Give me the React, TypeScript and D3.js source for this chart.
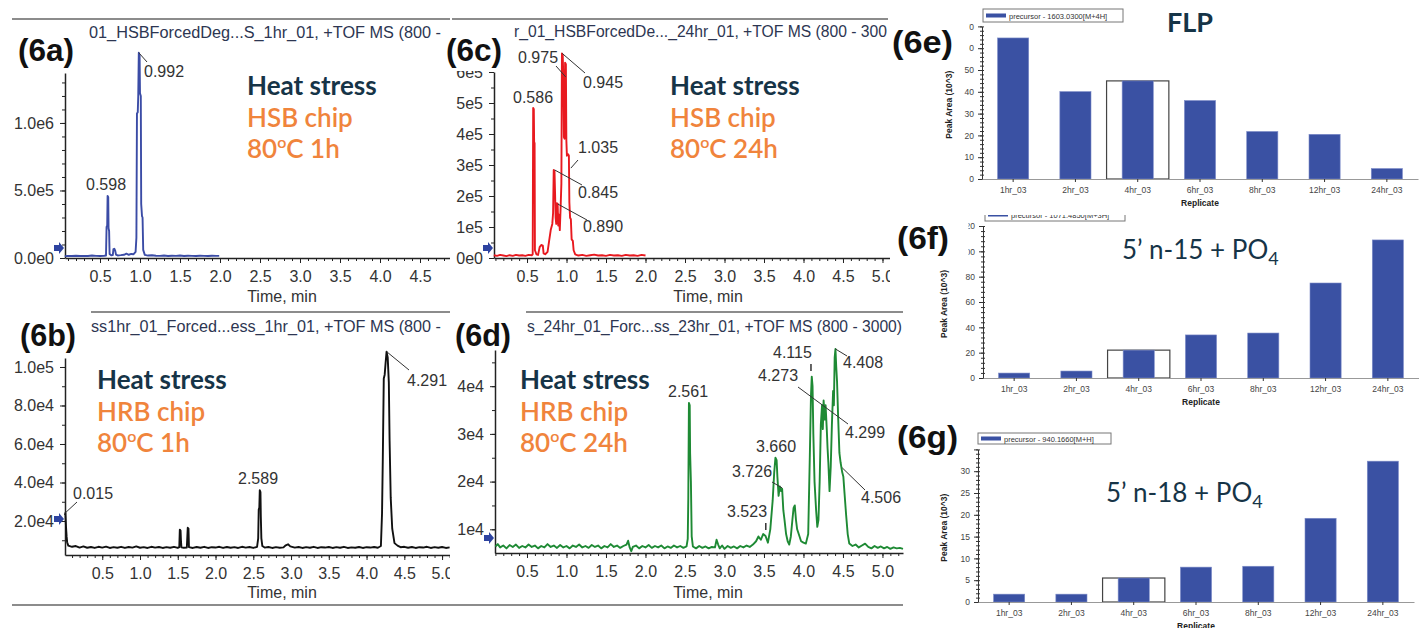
import React, { useRef, useEffect } from 'react';
import * as d3 from 'd3';

type Pt = [number, number];

const SANS = "'Liberation Sans', Arial, sans-serif";
const LATO = "Lato, 'Open Sans', sans-serif";
const NAVY = '#163447';
const ORANGE = '#f0843c';

// chromatogram traces: [time (min), intensity (cps)]
const hsb1h: Pt[] = [
  [0.06, 1.4e4], [0.1, 1.6e4], [0.15, 1.5e4], [0.2, 1.7e4], [0.25, 1.5e4], [0.3, 1.6e4], [0.35, 1.5e4],
  [0.4, 1.8e4], [0.45, 1.6e4], [0.5, 1.5e4], [0.55, 1.7e4], [0.575, 1.9e4], [0.582, 2.3e5], [0.59, 2.4e5],
  [0.595, 4.6e5], [0.603, 4.5e5], [0.607, 2.2e5], [0.614, 2.0e5], [0.62, 3e4], [0.64, 2.0e4], [0.66, 2.2e4],
  [0.668, 6.5e4], [0.68, 6.8e4], [0.69, 5.5e4], [0.7, 2.5e4], [0.72, 1.9e4], [0.76, 2.1e4], [0.8, 2.4e4],
  [0.83, 3.2e4], [0.86, 2.4e4], [0.89, 3.0e4], [0.92, 2.8e4], [0.945, 4.5e4], [0.955, 1.5e5], [0.962, 1.07e6],
  [0.972, 1.08e6], [0.978, 1.2e6], [0.985, 1.52e6], [0.995, 1.5e6], [1.0, 1.22e6], [1.01, 1.2e6], [1.015, 4e5],
  [1.025, 3.1e5], [1.032, 3.0e5], [1.04, 6e4], [1.06, 2.3e4], [1.1, 1.8e4], [1.15, 2.0e4], [1.2, 1.7e4],
  [1.25, 1.6e4], [1.3, 1.8e4], [1.35, 1.5e4], [1.4, 1.7e4], [1.45, 1.6e4], [1.5, 1.8e4], [1.55, 1.5e4],
  [1.6, 1.7e4], [1.65, 1.6e4], [1.7, 1.5e4], [1.75, 1.7e4], [1.8, 1.6e4], [1.85, 1.5e4], [1.9, 1.7e4],
  [1.95, 1.6e4], [1.99, 1.6e4],
];

const hsb24h: Pt[] = [
  [0.08, 9e3], [0.12, 7e3], [0.16, 1.0e4], [0.2, 8e3], [0.24, 6e3], [0.28, 9e3], [0.32, 7e3], [0.36, 1.0e4],
  [0.4, 8e3], [0.44, 9e3], [0.48, 7e3], [0.52, 1.0e4], [0.56, 9e3], [0.572, 1.2e4], [0.578, 4.84e5],
  [0.586, 4.8e5], [0.59, 3.75e5], [0.596, 3.7e5], [0.6, 2.5e4], [0.62, 1.2e4], [0.64, 1.0e4], [0.66, 3.5e4],
  [0.68, 4.2e4], [0.7, 4.0e4], [0.71, 1.5e4], [0.73, 1.2e4], [0.76, 2.0e4], [0.78, 5.5e4], [0.8, 9e4],
  [0.82, 1.1e5], [0.83, 1.45e5], [0.838, 2.84e5], [0.848, 2.8e5], [0.855, 2.1e5], [0.862, 1.3e5], [0.87, 1.1e5],
  [0.878, 1.77e5], [0.888, 1.75e5], [0.895, 1.05e5], [0.905, 1.4e5], [0.915, 9e4], [0.925, 1.6e5],
  [0.935, 2.4e5], [0.942, 6.6e5], [0.952, 6.55e5], [0.96, 5.8e5], [0.967, 3.9e5], [0.975, 3.85e5],
  [0.982, 6.3e5], [0.992, 6.25e5], [0.998, 3.8e5], [1.005, 3.3e5], [1.02, 3.35e5], [1.03, 3.3e5],
  [1.036, 1.8e5], [1.045, 1.3e5], [1.055, 1.25e5], [1.065, 6e4], [1.08, 5.5e4], [1.09, 2.5e4], [1.11, 1.2e4],
  [1.15, 8e3], [1.2, 1.0e4], [1.25, 7e3], [1.3, 9e3], [1.35, 1.1e4], [1.4, 8e3], [1.45, 9e3], [1.5, 7e3],
  [1.55, 1.0e4], [1.6, 8e3], [1.65, 9e3], [1.7, 7e3], [1.75, 1.0e4], [1.8, 8e3], [1.85, 9e3], [1.9, 7e3],
  [1.95, 1.0e4], [2.0, 8e3],
];

const hrb1h: Pt[] = [
  [0.007, 2.3e4], [0.012, 2.42e4], [0.02, 1.7e4], [0.028, 1.2e4], [0.035, 9e3], [0.05, 7.2e3],
  [0.1, 6.6e3], [0.15, 7.0e3], [0.2, 6.2e3], [0.25, 6.8e3], [0.3, 6.1e3], [0.35, 6.5e3], [0.4, 6.0e3],
  [0.45, 6.6e3], [0.5, 6.2e3], [0.55, 6.7e3], [0.6, 6.0e3], [0.65, 6.4e3], [0.7, 6.1e3], [0.75, 6.6e3],
  [0.8, 6.0e3], [0.85, 6.5e3], [0.9, 6.2e3], [0.95, 6.8e3], [1.0, 6.1e3], [1.05, 6.4e3], [1.1, 6.0e3],
  [1.15, 6.6e3], [1.2, 6.2e3], [1.25, 6.5e3], [1.3, 6.0e3], [1.35, 6.4e3], [1.4, 6.1e3], [1.45, 6.6e3],
  [1.5, 6.0e3], [1.52, 6.4e3], [1.527, 1.55e4], [1.537, 1.5e4], [1.542, 1.0e4], [1.548, 6.3e3],
  [1.58, 6.1e3], [1.62, 6.2e3], [1.632, 1.65e4], [1.642, 1.6e4], [1.648, 6.4e3], [1.7, 6.0e3],
  [1.75, 6.5e3], [1.8, 6.1e3], [1.85, 6.6e3], [1.9, 6.0e3], [1.95, 6.4e3], [2.0, 6.2e3], [2.05, 6.6e3],
  [2.1, 6.0e3], [2.15, 6.5e3], [2.2, 6.1e3], [2.25, 6.4e3], [2.3, 6.0e3], [2.35, 6.6e3], [2.4, 6.2e3],
  [2.45, 6.5e3], [2.5, 6.0e3], [2.55, 6.6e3], [2.565, 1.1e4], [2.572, 2.6e4], [2.58, 2.7e4], [2.586, 3.6e4],
  [2.595, 3.5e4], [2.6, 2.2e4], [2.607, 1.1e4], [2.62, 7.0e3], [2.65, 6.2e3], [2.7, 6.5e3], [2.75, 6.0e3],
  [2.8, 6.4e3], [2.85, 6.1e3], [2.9, 6.3e3], [2.93, 7.4e3], [2.96, 7.9e3], [2.99, 6.8e3], [3.05, 6.2e3],
  [3.1, 6.5e3], [3.15, 6.0e3], [3.2, 6.4e3], [3.25, 6.1e3], [3.3, 6.6e3], [3.35, 6.0e3], [3.4, 6.4e3],
  [3.45, 6.2e3], [3.5, 6.5e3], [3.55, 6.0e3], [3.6, 6.4e3], [3.65, 6.1e3], [3.7, 6.6e3], [3.75, 6.0e3],
  [3.8, 6.3e3], [3.85, 6.1e3], [3.9, 6.5e3], [3.95, 6.0e3], [4.0, 6.4e3], [4.05, 6.2e3], [4.1, 6.5e3],
  [4.15, 6.1e3], [4.19, 7.0e3], [4.205, 2.4e4], [4.215, 5.2e4], [4.228, 9.4e4], [4.24, 9.6e4],
  [4.252, 1.02e5], [4.265, 1.08e5], [4.28, 1.05e5], [4.295, 9.2e4], [4.305, 6.2e4], [4.32, 3.2e4],
  [4.34, 1.6e4], [4.37, 8.5e3], [4.41, 7.2e3], [4.45, 6.4e3], [4.5, 6.6e3], [4.55, 6.1e3], [4.6, 6.5e3],
  [4.65, 6.0e3], [4.7, 6.4e3], [4.75, 6.2e3], [4.8, 6.6e3], [4.85, 6.0e3], [4.9, 6.4e3], [4.95, 6.1e3],
  [5.0, 6.5e3], [5.05, 6.0e3], [5.1, 6.3e3],
];

const hrb24h: Pt[] = [
  [0.1, 6.4e3], [0.13, 6.9e3], [0.16, 6.2e3], [0.2, 6.6e3], [0.24, 6.0e3], [0.28, 6.7e3], [0.32, 6.3e3],
  [0.36, 6.8e3], [0.4, 6.1e3], [0.44, 6.5e3], [0.48, 6.2e3], [0.52, 6.8e3], [0.56, 6.3e3], [0.6, 6.6e3],
  [0.64, 6.0e3], [0.68, 6.5e3], [0.72, 6.2e3], [0.76, 6.9e3], [0.8, 6.3e3], [0.84, 6.6e3], [0.88, 6.1e3],
  [0.92, 6.7e3], [0.96, 6.2e3], [1.0, 6.5e3], [1.04, 6.0e3], [1.08, 6.6e3], [1.12, 6.3e3], [1.16, 6.8e3],
  [1.2, 6.2e3], [1.24, 6.5e3], [1.28, 6.1e3], [1.32, 6.7e3], [1.36, 6.3e3], [1.4, 6.6e3], [1.44, 6.0e3],
  [1.48, 6.5e3], [1.52, 6.2e3], [1.56, 6.9e3], [1.6, 6.3e3], [1.64, 6.6e3], [1.68, 6.1e3], [1.72, 6.5e3],
  [1.76, 6.8e3], [1.78, 7.6e3], [1.8, 6.2e3], [1.82, 5.4e3], [1.84, 6.3e3], [1.88, 6.6e3], [1.92, 6.0e3],
  [1.96, 6.5e3], [2.0, 6.2e3], [2.04, 6.7e3], [2.08, 6.1e3], [2.12, 6.5e3], [2.16, 6.2e3], [2.2, 6.6e3],
  [2.24, 6.0e3], [2.28, 6.4e3], [2.32, 6.1e3], [2.36, 6.6e3], [2.4, 6.2e3], [2.44, 6.5e3], [2.48, 6.1e3],
  [2.52, 6.4e3], [2.535, 8.0e3], [2.542, 1.65e4], [2.55, 3.65e4], [2.56, 3.6e4], [2.565, 2.6e4],
  [2.575, 2.0e4], [2.585, 8.5e3], [2.6, 6.4e3], [2.64, 6.0e3], [2.68, 6.5e3], [2.72, 6.1e3], [2.76, 6.4e3],
  [2.8, 6.0e3], [2.84, 6.3e3], [2.88, 6.2e3], [2.9, 7.8e3], [2.92, 6.8e3], [2.94, 6.0e3], [2.97, 6.6e3],
  [3.0, 5.9e3], [3.04, 6.5e3], [3.08, 6.1e3], [3.12, 6.4e3], [3.16, 6.0e3], [3.2, 6.5e3], [3.24, 6.2e3],
  [3.28, 6.6e3], [3.32, 6.3e3], [3.36, 6.8e3], [3.4, 7.5e3], [3.43, 8.5e3], [3.46, 7.8e3], [3.49, 9.0e3],
  [3.52, 8.6e3], [3.55, 7.2e3], [3.58, 1.0e4], [3.61, 1.6e4], [3.63, 2.2e4], [3.645, 2.5e4], [3.66, 2.45e4],
  [3.67, 2.1e4], [3.685, 1.7e4], [3.7, 1.9e4], [3.715, 1.8e4], [3.73, 1.85e4], [3.745, 1.4e4], [3.76, 1.2e4],
  [3.78, 9.0e3], [3.8, 7.5e3], [3.82, 6.8e3], [3.84, 8.5e3], [3.86, 1.2e4], [3.875, 1.45e4], [3.89, 1.5e4],
  [3.905, 1.2e4], [3.92, 1.0e4], [3.94, 9.0e3], [3.97, 7.5e3], [4.0, 7.2e3], [4.03, 7.0e3], [4.06, 9.0e3],
  [4.08, 2.5e4], [4.095, 3.8e4], [4.105, 4.2e4], [4.115, 4.0e4], [4.125, 3.0e4], [4.14, 2.0e4], [4.16, 1.4e4],
  [4.175, 1.05e4], [4.19, 1.2e4], [4.205, 2.0e4], [4.22, 3.2e4], [4.235, 3.6e4], [4.245, 3.1e4],
  [4.255, 3.7e4], [4.27, 3.3e4], [4.28, 3.6e4], [4.295, 3.1e4], [4.305, 2.7e4], [4.315, 2.4e4], [4.33, 1.8e4],
  [4.345, 2.3e4], [4.36, 3.2e4], [4.375, 3.9e4], [4.385, 3.6e4], [4.395, 4.6e4], [4.405, 4.78e4],
  [4.415, 4.4e4], [4.425, 4.1e4], [4.44, 3.3e4], [4.455, 2.6e4], [4.47, 2.4e4], [4.49, 2.2e4], [4.505, 2.1e4],
  [4.52, 1.75e4], [4.54, 1.3e4], [4.56, 9.0e3], [4.58, 7.0e3], [4.62, 6.5e3], [4.66, 6.8e3], [4.7, 6.2e3],
  [4.74, 6.6e3], [4.78, 7.0e3], [4.82, 6.3e3], [4.86, 6.0e3], [4.9, 6.5e3], [4.94, 6.1e3], [4.98, 6.4e3],
  [5.02, 6.0e3], [5.06, 6.3e3], [5.1, 5.9e3], [5.14, 6.2e3], [5.18, 6.0e3], [5.22, 6.1e3], [5.26, 5.9e3],
];

// replicate bar charts (peak area, 10^3)
const replicates = ['1hr_03', '2hr_03', '4hr_03', '6hr_03', '8hr_03', '12hr_03', '24hr_03'];
const flpArea = [64.7, 40.1, 45.0, 36.0, 21.8, 20.5, 4.8];
const n15Area = [3.9, 5.5, 22.0, 34.0, 35.5, 75.0, 109.0];
const n18Area = [1.8, 1.8, 5.5, 8.0, 8.2, 19.2, 32.3];
const selectedReplicate = '4hr_03';

const chromPanels = [
  {
    key: 'a', label: '(6a)', labelX: 18, labelY: 61, trace: hsb1h, color: '#3b4ca6',
    clip: [0, 0, 450, 305], xRange: [65, 450], xDomain: [0.0625, 4.875],
    yRange: [258, 73], yDomain: [0, 1.37e6], yTicks: [0, 5e5, 1e6], yMinor: 1e5, fmt: '.1e',
    xTicks: [0.5, 1, 1.5, 2, 2.5, 3, 3.5, 4, 4.5], arrowAt: 7.4e4,
    title: '01_HSBForcedDeg...S_1hr_01, +TOF MS (800 -', titleX: 89, titleY: 38, titleW: 352,
    topLine: [12, 450, 19], timeX: 282, timeY: 302,
    tag: { x: 247, y: 95, chip: 'HSB chip', time: ' 1h' },
    notes: [
      { text: '0.598', x: 86, y: 190 },
      { text: '0.992', x: 144, y: 77, t: 0.985, v: 1.52e6, lx: 147, ly: 62 },
    ],
  },
  {
    key: 'c', label: '(6c)', labelX: 446, labelY: 61, trace: hsb24h, color: '#e8191f',
    clip: [452, 0, 438, 305], xRange: [494, 890], xDomain: [0.082, 5.095],
    yRange: [258, 72], yDomain: [0, 6.0e5], yTicks: [0, 1e5, 2e5, 3e5, 4e5, 5e5, 6e5], yMinor: 5e4, fmt: '.0e',
    xTicks: [0.5, 1, 1.5, 2, 2.5, 3, 3.5, 4, 4.5, 5], arrowAt: 3.2e4,
    title: 'r_01_HSBForcedDe..._24hr_01, +TOF MS (800 - 300', titleX: 514, titleY: 37, titleW: 373,
    topLine: [450, 888, 19], timeX: 708, timeY: 302, labelMask: [452, 40, 40, 31],
    tag: { x: 670, y: 95, chip: 'HSB chip', time: ' 24h' },
    notes: [
      { text: '0.975', x: 518, y: 63, t: 0.99, v: 5.84e5, lx: 556, ly: 66 },
      { text: '0.945', x: 583, y: 88, t: 0.945, v: 6.6e5, lx: 585, ly: 73 },
      { text: '0.586', x: 513, y: 103 },
      { text: '1.035', x: 578, y: 153, t: 1.055, v: 2.9e5, lx: 578, ly: 160 },
      { text: '0.845', x: 578, y: 198, t: 0.85, v: 2.84e5, lx: 582, ly: 185 },
      { text: '0.890', x: 583, y: 232, t: 0.89, v: 1.74e5, lx: 587, ly: 220 },
    ],
  },
  {
    key: 'b', label: '(6b)', labelX: 20, labelY: 346, trace: hrb1h, color: '#111111',
    clip: [0, 305, 450, 323], xRange: [65, 450], xDomain: [0.0066, 5.105],
    yRange: [555, 358], yDomain: [2338, 104675], yTicks: [2e4, 4e4, 6e4, 8e4, 1e5], yMinor: 1e4, fmt: '.1e',
    xTicks: [0.5, 1, 1.5, 2, 2.5, 3, 3.5, 4, 4.5, 5], arrowAt: 2.1e4,
    title: 'ss1hr_01_Forced...ess_1hr_01, +TOF MS (800 -', titleX: 91, titleY: 332, titleW: 350,
    topLine: [91, 450, 312], timeX: 282, timeY: 598,
    tag: { x: 97, y: 389, chip: 'HRB chip', time: ' 1h' },
    notes: [
      { text: '0.015', x: 73, y: 499, t: 0.01, v: 2.42e4, lx: 77, ly: 502 },
      { text: '2.589', x: 238, y: 484 },
      { text: '4.291', x: 407, y: 386, t: 4.265, v: 1.08e5, lx: 409, ly: 370 },
    ],
  },
  {
    key: 'd', label: '(6d)', labelX: 455, labelY: 346, trace: hrb24h, color: '#1e8a34',
    clip: [452, 305, 453, 323], xRange: [495, 903], xDomain: [0.095, 5.26],
    yRange: [553, 350], yDomain: [5031, 47589], yTicks: [1e4, 2e4, 3e4, 4e4], yMinor: 5e3, fmt: '.0e',
    xTicks: [0.5, 1, 1.5, 2, 2.5, 3, 3.5, 4, 4.5, 5], arrowAt: 8.2e3,
    title: 's_24hr_01_Forc...ss_23hr_01, +TOF MS (800 - 3000)', titleX: 527, titleY: 332, titleW: 375,
    topLine: [526, 903, 312], timeX: 708, timeY: 598,
    tag: { x: 520, y: 389, chip: 'HRB chip', time: ' 24h' },
    notes: [
      { text: '2.561', x: 668, y: 397 },
      { text: '3.523', x: 727, y: 517, tick: [3.523, 523, 530] },
      { text: '3.660', x: 756, y: 452 },
      { text: '3.726', x: 732, y: 477, t: 3.728, v: 1.87e4, lx: 772, ly: 482 },
      { text: '4.115', x: 773, y: 358, tick: [4.095, 364, 371] },
      { text: '4.273', x: 758, y: 381, seg: [798, 387, 848, 424] },
      { text: '4.408', x: 843, y: 368, t: 4.405, v: 4.78e4, lx: 847, ly: 356 },
      { text: '4.299', x: 845, y: 438 },
      { text: '4.506', x: 861, y: 503, t: 4.49, v: 2.29e4, lx: 865, ly: 490 },
    ],
  },
];

const barPanels = [
  {
    key: 'e', label: '(6e)', labelX: 892, labelY: 53, values: flpArea,
    xRange: [982, 1418], yRange: [179, 26.4], yDomain: [0, 70], yStep: 10, minor: 2,
    legend: { x: 983, y: 9, w: 140, h: 13, text: 'precursor - 1603.0300[M+4H]' }, legendClip: 0,
    yTitleX: 952, mask: [955, 18, 14, 38],
    name: 'FLP', nameX: 1190, nameY: 32, bold: true,
  },
  {
    key: 'f', label: '(6f)', labelX: 897, labelY: 249, values: n15Area,
    xRange: [983, 1419], yRange: [378, 226], yDomain: [0, 120], yStep: 20, minor: 4,
    legend: { x: 985, y: 208, w: 140, h: 13, text: 'precursor - 1071.4850[M+3H]' }, legendClip: 215,
    yTitleX: 947, mask: [950, 218, 18.5, 40],
    name: '5\u2019 n-15 + PO', nameX: 1122, nameY: 259, bold: false,
  },
  {
    key: 'g', label: '(6g)', labelX: 897, labelY: 448, values: n18Area,
    xRange: [978, 1414], yRange: [602, 449.4], yDomain: [0, 35], yStep: 5, minor: 1,
    legend: { x: 978, y: 433, w: 133, h: 11, text: 'precursor - 940.1660[M+H]' }, legendClip: 0,
    yTitleX: 947, mask: [955, 441, 19, 15],
    name: '5\u2019 n-18 + PO', nameX: 1106, nameY: 502, bold: false,
  },
];

function drawChrom(root: any, c: any) {
  const x = d3.scaleLinear().domain(c.xDomain).range(c.xRange);
  const y = d3.scaleLinear().domain(c.yDomain).range(c.yRange);

  const clipId = 'clip-' + c.key;
  root.append('clipPath').attr('id', clipId).append('rect')
    .attr('x', c.clip[0]).attr('y', c.clip[1]).attr('width', c.clip[2]).attr('height', c.clip[3]);
  const g = root.append('g').attr('clip-path', `url(#${clipId})`);

  // window border line and run title
  g.append('line')
    .attr('x1', c.topLine[0]).attr('x2', c.topLine[1]).attr('y1', c.topLine[2]).attr('y2', c.topLine[2])
    .attr('stroke', '#666').attr('stroke-width', 1.5);
  g.append('text').attr('x', c.titleX).attr('y', c.titleY)
    .attr('font-family', SANS).attr('font-size', 16).attr('fill', '#2d3652')
    .attr('textLength', c.titleW).attr('lengthAdjust', 'spacingAndGlyphs').text(c.title);

  const fmt = d3.format(c.fmt);
  const yAxis = g.append('g').attr('transform', `translate(${c.xRange[0]},0)`)
    .call(d3.axisLeft(y).tickValues(c.yTicks).tickSize(5).tickSizeOuter(0).tickPadding(6)
      .tickFormat((d: any) => fmt(d).replace('e+', 'e')));
  g.append('g').attr('transform', `translate(${c.xRange[0]},0)`)
    .call(d3.axisLeft(y).tickValues(d3.range(Math.ceil(c.yDomain[0] / c.yMinor) * c.yMinor, c.yDomain[1], c.yMinor))
      .tickSize(3).tickFormat(() => ''))
    .call((s: any) => s.select('.domain').remove());

  const xAxis = g.append('g').attr('transform', `translate(0,${c.yRange[0]})`)
    .call(d3.axisBottom(x).tickValues(c.xTicks).tickSize(5).tickSizeOuter(0).tickPadding(8)
      .tickFormat(d3.format('.1f')));
  g.append('g').attr('transform', `translate(0,${c.yRange[0]})`)
    .call(d3.axisBottom(x).tickValues(d3.range(0.1, c.xDomain[1], 0.1)).tickSize(3).tickFormat(() => ''))
    .call((s: any) => s.select('.domain').remove());

  g.selectAll('.domain').attr('stroke', '#222').attr('stroke-width', 1.5);
  g.selectAll('.tick line').attr('stroke', '#222');
  [yAxis, xAxis].forEach((a: any) =>
    a.selectAll('text').attr('font-family', SANS).attr('font-size', 16).attr('fill', '#333'));

  // trace
  g.append('path').datum(c.trace)
    .attr('d', d3.line<Pt>().x(d => x(d[0])).y(d => y(d[1])))
    .attr('fill', 'none').attr('stroke', c.color).attr('stroke-width', 1.9).attr('stroke-linejoin', 'round');

  // threshold arrow
  g.append('path')
    .attr('transform', `translate(${c.xRange[0] - 1},${y(c.arrowAt)})`)
    .attr('d', 'M-10,-3 L-5,-3 L-5,-6 L0,0 L-5,6 L-5,3 L-10,3 Z')
    .attr('fill', '#2d43a0');

  // peak annotations
  c.notes.forEach((n: any) => {
    g.append('text').attr('x', n.x).attr('y', n.y)
      .attr('font-family', SANS).attr('font-size', 16).attr('fill', '#333').text(n.text);
    const seg = n.seg ? n.seg
      : n.t !== undefined ? [x(n.t), y(n.v), n.lx, n.ly]
      : n.tick ? [x(n.tick[0]), n.tick[1], x(n.tick[0]), n.tick[2]] : null;
    if (seg) {
      g.append('line').attr('x1', seg[0]).attr('y1', seg[1]).attr('x2', seg[2]).attr('y2', seg[3])
        .attr('stroke', '#333').attr('stroke-width', n.tick ? 1.5 : 1);
    }
  });

  g.append('text').attr('x', c.timeX).attr('y', c.timeY).attr('text-anchor', 'middle')
    .attr('font-family', SANS).attr('font-size', 16).attr('fill', '#333').text('Time, min');

  // condition tag
  const t = root.append('g').attr('font-family', LATO).attr('font-size', 26);
  t.append('text').attr('x', c.tag.x).attr('y', c.tag.y).attr('font-weight', 700).attr('fill', NAVY).text('Heat stress');
  t.append('text').attr('x', c.tag.x).attr('y', c.tag.y + 32).attr('font-weight', 600).attr('fill', ORANGE).text(c.tag.chip);
  const tt = t.append('text').attr('x', c.tag.x).attr('y', c.tag.y + 63).attr('font-weight', 600).attr('fill', ORANGE);
  tt.append('tspan').text('80');
  tt.append('tspan').attr('dy', -10).attr('font-size', 16).text('o');
  tt.append('tspan').attr('dy', 10).text('C' + c.tag.time);

  if (c.labelMask) {
    root.append('rect').attr('x', c.labelMask[0]).attr('y', c.labelMask[1])
      .attr('width', c.labelMask[2]).attr('height', c.labelMask[3]).attr('fill', '#fff');
  }
  root.append('text').attr('x', c.labelX).attr('y', c.labelY)
    .attr('font-family', SANS).attr('font-weight', 700).attr('font-size', 31)
    .attr('textLength', 56).attr('lengthAdjust', 'spacingAndGlyphs').attr('fill', '#111').text(c.label);
}

function drawBars(root: any, c: any) {
  const x = d3.scaleBand().domain(replicates).range(c.xRange);
  const y = d3.scaleLinear().domain(c.yDomain).range(c.yRange);
  const bw = x.bandwidth();
  const g = root.append('g');
  const rows = replicates.map((r, i) => ({ r, v: c.values[i] }));

  // selected replicate outline
  rows.filter(d => d.r === selectedReplicate).forEach(d => {
    g.append('rect').attr('x', x(d.r)).attr('y', y(d.v)).attr('width', bw).attr('height', y(0) - y(d.v))
      .attr('fill', '#fff').attr('stroke', '#444').attr('stroke-width', 1.2);
  });
  g.selectAll('rect.bar').data(rows).join('rect').attr('class', 'bar')
    .attr('x', (d: any) => (x(d.r) as number) + bw * 0.25).attr('width', bw * 0.5)
    .attr('y', (d: any) => y(d.v)).attr('height', (d: any) => y(0) - y(d.v))
    .attr('fill', '#3a51a3').attr('stroke', '#7d8cc8').attr('stroke-width', 0.6);

  const ya = g.append('g').attr('transform', `translate(${c.xRange[0]},0)`)
    .call(d3.axisLeft(y).tickValues(d3.range(0, c.yDomain[1] + 0.01, c.yStep)).tickSize(4).tickSizeOuter(0).tickPadding(4));
  g.append('g').attr('transform', `translate(${c.xRange[0]},0)`)
    .call(d3.axisLeft(y).tickValues(d3.range(0, c.yDomain[1] + 0.01, c.minor)).tickSize(2).tickFormat(() => ''))
    .call((s: any) => s.select('.domain').remove());
  g.append('g').attr('transform', `translate(${c.xRange[0]},0)`)
    .call(d3.axisRight(y).tickValues(d3.range(0, c.yDomain[1] + 0.01, c.minor)).tickSize(2).tickFormat(() => ''))
    .call((s: any) => s.select('.domain').remove());
  const xa = g.append('g').attr('transform', `translate(0,${y(0)})`)
    .call(d3.axisBottom(x).tickSize(3).tickSizeOuter(0).tickPadding(5));
  xa.select('.domain').attr('stroke', '#999');
  ya.select('.domain').attr('stroke', '#333');
  g.selectAll('.tick line').attr('stroke', '#333');
  g.selectAll('.tick text').attr('font-family', SANS).attr('font-size', 8.5).attr('fill', '#444');

  g.append('text').attr('x', (c.xRange[0] + c.xRange[1]) / 2).attr('y', y(0) + 27)
    .attr('text-anchor', 'middle').attr('font-family', SANS).attr('font-size', 8.5).attr('font-weight', 700)
    .attr('fill', '#222').text('Replicate');
  g.append('text').attr('transform', `translate(${c.yTitleX},${(c.yRange[0] + c.yRange[1]) / 2 + 2}) rotate(-90)`)
    .attr('text-anchor', 'middle').attr('font-family', SANS).attr('font-size', 8.5).attr('font-weight', 700)
    .attr('fill', '#222').text('Peak Area (10^3)');

  // legend
  const lg = root.append('g');
  if (c.legendClip) {
    const id = 'lclip-' + c.key;
    root.append('clipPath').attr('id', id).append('rect')
      .attr('x', c.legend.x - 2).attr('y', c.legendClip).attr('width', c.legend.w + 4).attr('height', 20);
    lg.attr('clip-path', `url(#${id})`);
  }
  lg.append('rect').attr('x', c.legend.x).attr('y', c.legend.y).attr('width', c.legend.w).attr('height', c.legend.h)
    .attr('fill', '#fff').attr('stroke', '#777').attr('stroke-width', 1);
  lg.append('rect').attr('x', c.legend.x + 3).attr('y', c.legend.y + c.legend.h / 2 - 2)
    .attr('width', 20).attr('height', 4).attr('fill', '#3a51a3');
  lg.append('text').attr('x', c.legend.x + 26).attr('y', c.legend.y + c.legend.h / 2 + 3)
    .attr('font-family', SANS).attr('font-size', 7.5).attr('fill', '#333').text(c.legend.text);

  // mask over the cropped tick labels
  root.append('rect').attr('x', c.mask[0]).attr('y', c.mask[1]).attr('width', c.mask[2]).attr('height', c.mask[3])
    .attr('fill', '#fff');

  const nm = root.append('text').attr('x', c.nameX).attr('y', c.nameY)
    .attr('font-family', LATO).attr('fill', NAVY);
  if (c.bold) {
    nm.attr('text-anchor', 'middle').attr('font-size', 27).attr('font-weight', 700).text(c.name);
  } else {
    nm.attr('font-size', 26);
    nm.append('tspan').text(c.name);
    nm.append('tspan').attr('dy', 6).attr('font-size', 18).text('4');
  }

  root.append('text').attr('x', c.labelX).attr('y', c.labelY)
    .attr('font-family', SANS).attr('font-weight', 700).attr('font-size', 31)
    .attr('textLength', c.key === 'f' ? 52 : 61).attr('lengthAdjust', 'spacingAndGlyphs')
    .attr('fill', '#111').text(c.label);
}

const App = () => {
  const ref = useRef<SVGSVGElement>(null);

  useEffect(() => {
    const svg = d3.select(ref.current);
    svg.selectAll('*').remove();
    svg.append('rect').attr('width', 1419).attr('height', 628).attr('fill', '#fff');

    chromPanels.forEach(c => drawChrom(svg, c));

    // bottom window border
    svg.append('line').attr('x1', 12).attr('x2', 903).attr('y1', 605).attr('y2', 605)
      .attr('stroke', '#666').attr('stroke-width', 1.5);

    barPanels.forEach(c => drawBars(svg, c));
  }, []);

  return (
    <div style={{ position: 'absolute', left: 0, top: 0 }}>
      <svg ref={ref} width={1419} height={628} style={{ display: 'block' }} />
    </div>
  );
};

export default App;
